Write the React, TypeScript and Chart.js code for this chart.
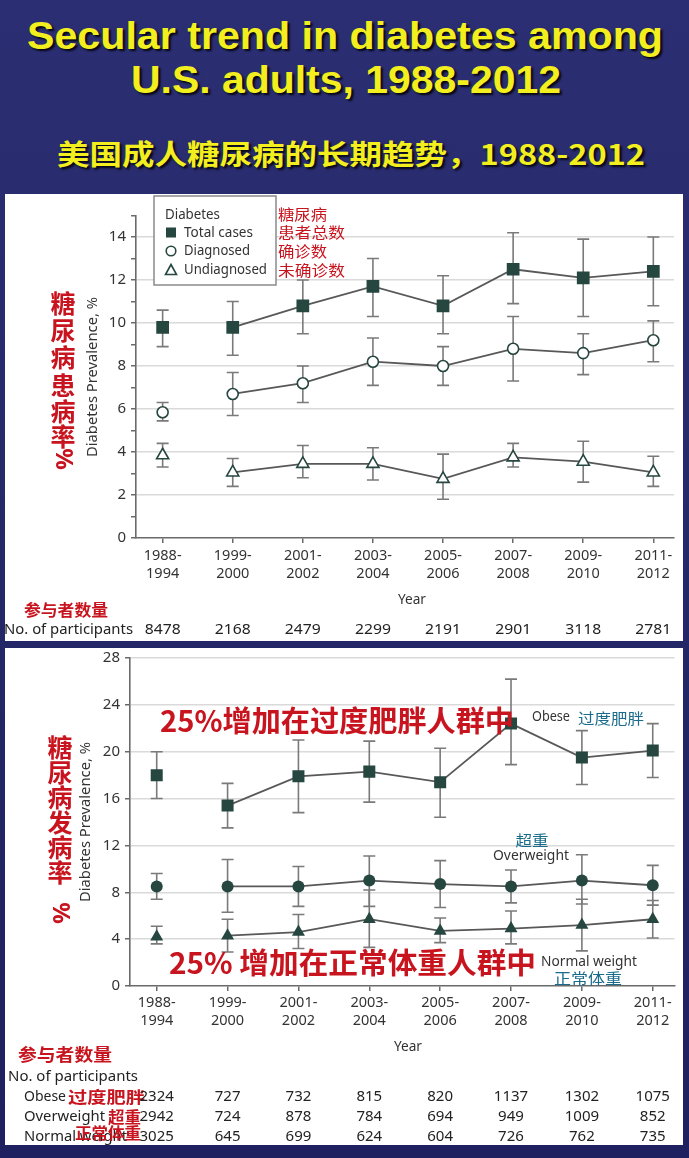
import React, { useEffect, useRef } from 'react';
import { Chart, registerables } from 'chart.js';

Chart.register(...registerables);

// ---------- DATA ----------
const periods = ['1988-1994', '1999-2000', '2001-2002', '2003-2004', '2005-2006', '2007-2008', '2009-2010', '2011-2012'];
const periodTickLabels = [
  ['1988-', '1994'], ['1999-', '2000'], ['2001-', '2002'], ['2003-', '2004'],
  ['2005-', '2006'], ['2007-', '2008'], ['2009-', '2010'], ['2011-', '2012'],
];

// Top panel: total / diagnosed / undiagnosed
const totalCases = [9.8, 9.8, 10.8, 11.7, 10.8, 12.5, 12.1, 12.4];
const totalLow = [8.9, 8.5, 9.5, 10.3, 9.5, 10.9, 10.3, 10.8];
const totalHigh = [10.6, 11.0, 12.0, 13.0, 12.2, 14.2, 13.9, 14.0];
const diagnosed = [5.85, 6.7, 7.2, 8.2, 8.0, 8.8, 8.6, 9.2];
const diagnosedLow = [5.45, 5.7, 6.3, 7.1, 7.1, 7.3, 7.6, 8.2];
const diagnosedHigh = [6.3, 7.7, 8.0, 9.3, 8.9, 10.3, 9.5, 10.1];
const undiagnosed = [3.85, 3.05, 3.45, 3.45, 2.75, 3.75, 3.55, 3.05];
const undiagnosedLow = [3.3, 2.4, 2.8, 2.7, 1.8, 3.3, 2.6, 2.4];
const undiagnosedHigh = [4.4, 3.7, 4.3, 4.2, 3.9, 4.4, 4.5, 3.8];
const participantsTotal = [8478, 2168, 2479, 2299, 2191, 2901, 3118, 2781];
const topYTicks = [0, 1, 2, 3, 4, 5, 6, 7, 8, 9, 10, 11, 12, 13, 14, 15];

// Bottom panel: obese / overweight / normal weight
const obese = [18.0, 15.4, 17.9, 18.3, 17.4, 22.4, 19.5, 20.1];
const obeseLow = [16.0, 13.5, 14.8, 15.7, 14.4, 18.9, 17.2, 17.8];
const obeseHigh = [20.0, 17.3, 21.0, 20.9, 20.3, 26.2, 21.8, 22.4];
const overweight = [8.5, 8.5, 8.5, 9.0, 8.7, 8.5, 9.0, 8.6];
const overweightLow = [7.4, 6.3, 6.8, 6.8, 6.7, 7.1, 7.0, 6.9];
const overweightHigh = [9.6, 10.8, 10.2, 11.1, 10.7, 9.9, 11.2, 10.3];
const normalWeight = [4.2, 4.3, 4.6, 5.7, 4.7, 4.9, 5.2, 5.7];
const normalLow = [3.6, 2.9, 3.2, 3.3, 3.7, 3.6, 3.0, 4.1];
const normalHigh = [5.1, 5.7, 6.1, 8.2, 5.8, 6.4, 7.4, 7.3];
const participantsObese = [2324, 727, 732, 815, 820, 1137, 1302, 1075];
const participantsOverweight = [2942, 724, 878, 784, 694, 949, 1009, 852];
const participantsNormal = [3025, 645, 699, 624, 604, 726, 762, 735];
const bottomYTicks = [0, 4, 8, 12, 16, 20, 24, 28];

// ---------- STYLE ----------
const SANS = '"Noto Sans", "Liberation Sans", sans-serif';
const CJK = '"Noto Sans CJK SC", "Noto Sans", sans-serif';
const MARK = '#264640';
const LINE = '#585858';
const ERR = '#7a7a7a';
const GRID = '#dadada';
const AXIS = '#6a6a6a';
const TXT = '#333333';
const RED = '#c8141e';
const TEAL = '#1b6c8c';

const TOP_OFF = { x: 5, y: 194 };
const BOT_OFF = { x: 5, y: 648 };

type TOpts = { font: string; color: string; align?: CanvasTextAlign; width?: number; rotate?: number };

function drawText(ctx: CanvasRenderingContext2D, s: string, x: number, y: number, o: TOpts) {
  ctx.save();
  ctx.font = o.font;
  ctx.fillStyle = o.color;
  ctx.textBaseline = 'middle';
  ctx.textAlign = o.align || 'left';
  ctx.translate(x, y);
  if (o.rotate) ctx.rotate(o.rotate);
  if (o.width) {
    const w = ctx.measureText(s).width;
    if (w > 0) ctx.scale(o.width / w, 1);
  }
  ctx.fillText(s, 0, 0);
  ctx.restore();
}

function measure(text: string, font: string) {
  const c = document.createElement('canvas').getContext('2d') as CanvasRenderingContext2D;
  c.font = font;
  return c.measureText(text).width;
}

function pts(values: number[]) {
  return values.map((v, i) => ({ x: i, y: v }));
}

function errorBarPlugin(bars: { low: number[]; high: number[] }[]) {
  return {
    id: 'errBars',
    beforeDatasetsDraw(chart: any) {
      const { ctx, scales } = chart;
      const x = scales.x;
      const y = scales.y;
      ctx.save();
      ctx.strokeStyle = ERR;
      ctx.lineWidth = 1.6;
      bars.forEach((b) => {
        b.low.forEach((lo, i) => {
          const px = x.getPixelForValue(i);
          const p1 = y.getPixelForValue(lo);
          const p2 = y.getPixelForValue(b.high[i]);
          ctx.beginPath();
          ctx.moveTo(px, p1);
          ctx.lineTo(px, p2);
          ctx.moveTo(px - 6, p1);
          ctx.lineTo(px + 6, p1);
          ctx.moveTo(px - 6, p2);
          ctx.lineTo(px + 6, p2);
          ctx.stroke();
        });
      });
      ctx.restore();
    },
  };
}

function series(values: number[], style: string, radius: number, fill: string, borderW: number) {
  return {
    data: pts(values),
    borderColor: LINE,
    borderWidth: 1.8,
    tension: 0,
    pointStyle: style,
    pointRadius: radius,
    pointBackgroundColor: fill,
    pointBorderColor: MARK,
    pointBorderWidth: borderW,
    segment: {
      borderColor: (c: any) => (c.p0DataIndex === 0 ? 'rgba(0,0,0,0)' : LINE),
    },
  };
}

function xAxis(min: number, max: number, height: number, padding: number) {
  return {
    type: 'linear',
    min,
    max,
    afterBuildTicks: (s: any) => {
      s.ticks = periods.map((_, i) => ({ value: i }));
    },
    ticks: {
      autoSkip: false,
      maxRotation: 0,
      minRotation: 0,
      padding,
      color: TXT,
      font: { family: SANS, size: 14.5, lineHeight: 1.25 },
      callback: (v: number) => periodTickLabels[Math.round(v)],
    },
    grid: { drawOnChartArea: false, drawTicks: true, tickLength: 5, tickColor: AXIS, lineWidth: 1.5 },
    border: { color: AXIS, width: 1.6 },
    afterFit: (s: any) => {
      s.height = height;
      s.paddingLeft = 0;
      s.paddingRight = 0;
    },
  };
}

function yAxis(ticks: number[], max: number, width: number, labelEvery: number) {
  return {
    type: 'linear',
    min: 0,
    max,
    afterBuildTicks: (s: any) => {
      s.ticks = ticks.map((v) => ({ value: v }));
    },
    ticks: {
      padding: 5,
      color: TXT,
      font: { family: SANS, size: 15 },
      callback: (v: number) => (v % labelEvery === 0 ? String(v) : ''),
    },
    grid: {
      drawTicks: true,
      tickLength: 5,
      tickColor: AXIS,
      lineWidth: 1.5,
      color: (c: any) => (c.tick && c.tick.value > 0 && c.tick.value % labelEvery === 0 ? GRID : 'rgba(0,0,0,0)'),
    },
    border: { color: AXIS, width: 1.6 },
    afterFit: (s: any) => {
      s.width = width;
      s.paddingTop = 0;
      s.paddingBottom = 0;
    },
  };
}

function drawVerticalRed(ctx: CanvasRenderingContext2D, chars: string[], x: number, ys: number[]) {
  chars.forEach((ch, i) => {
    if (ch === '%') {
      drawText(ctx, ch, x, ys[i], { font: `bold 24px ${SANS}`, color: RED, align: 'center', rotate: Math.PI / 2 });
    } else {
      drawText(ctx, ch, x, ys[i], { font: `bold 25px ${CJK}`, color: RED, align: 'center' });
    }
  });
}

function topAnnotations(chart: any) {
  const ctx: CanvasRenderingContext2D = chart.ctx;
  const ox = TOP_OFF.x;
  const oy = TOP_OFF.y;
  const xs = chart.scales.x;
  const P = (x: number, y: number) => [x - ox, y - oy];

  // legend box
  ctx.save();
  ctx.fillStyle = '#ffffff';
  ctx.strokeStyle = '#8a8a8a';
  ctx.lineWidth = 1.5;
  const [bx, by] = P(154, 196);
  ctx.fillRect(bx, by, 122, 89);
  ctx.strokeRect(bx, by, 122, 89);
  ctx.restore();

  const lf = `15px ${SANS}`;
  let [tx, ty] = P(165, 215);
  drawText(ctx, 'Diabetes', tx, ty, { font: lf, color: TXT, width: 55 });
  // symbols
  ctx.save();
  ctx.fillStyle = MARK;
  ctx.strokeStyle = MARK;
  ctx.lineWidth = 1.6;
  let [sx, sy] = P(171, 232.5);
  ctx.fillRect(sx - 5, sy - 5, 10, 10);
  [sx, sy] = P(171, 251);
  ctx.beginPath();
  ctx.arc(sx, sy, 4.8, 0, Math.PI * 2);
  ctx.fillStyle = '#fff';
  ctx.fill();
  ctx.stroke();
  [sx, sy] = P(171, 270);
  ctx.beginPath();
  ctx.moveTo(sx, sy - 5.5);
  ctx.lineTo(sx + 5.5, sy + 4.5);
  ctx.lineTo(sx - 5.5, sy + 4.5);
  ctx.closePath();
  ctx.stroke();
  ctx.restore();
  [tx, ty] = P(184, 232.5);
  drawText(ctx, 'Total cases', tx, ty, { font: lf, color: TXT, width: 69 });
  [tx, ty] = P(184, 251);
  drawText(ctx, 'Diagnosed', tx, ty, { font: lf, color: TXT, width: 66 });
  [tx, ty] = P(184, 270);
  drawText(ctx, 'Undiagnosed', tx, ty, { font: lf, color: TXT, width: 83 });

  const rf = `15px ${CJK}`;
  [tx, ty] = P(278, 214);
  drawText(ctx, '糖尿病', tx, ty, { font: rf, color: RED, width: 49 });
  [tx, ty] = P(278, 232.5);
  drawText(ctx, '患者总数', tx, ty, { font: rf, color: RED, width: 67 });
  [tx, ty] = P(278, 251);
  drawText(ctx, '确诊数', tx, ty, { font: rf, color: RED, width: 49 });
  [tx, ty] = P(278, 270);
  drawText(ctx, '未确诊数', tx, ty, { font: rf, color: RED, width: 67 });

  // y title
  [tx, ty] = P(93, 377);
  drawText(ctx, 'Diabetes Prevalence, %', tx, ty, { font: `14px ${SANS}`, color: TXT, align: 'center', rotate: -Math.PI / 2, width: 160 });
  drawVerticalRed(ctx, ['糖', '尿', '病', '患', '病', '率', '%'], 63 - ox, [303, 330, 357, 385, 411, 436, 459].map((v) => v - oy));

  // Year
  [tx, ty] = P(412, 600);
  drawText(ctx, 'Year', tx, ty, { font: `15px ${SANS}`, color: TXT, align: 'center', width: 28 });

  [tx, ty] = P(24, 610);
  drawText(ctx, '参与者数量', tx, ty, { font: `bold 16px ${CJK}`, color: RED, width: 84 });
  [tx, ty] = P(4, 630);
  drawText(ctx, 'No. of participants', tx, ty, { font: `15px ${SANS}`, color: '#222', width: 129 });
  participantsTotal.forEach((n, i) => {
    drawText(ctx, String(n), xs.getPixelForValue(i), ty, { font: `15px ${SANS}`, color: '#222', align: 'center', width: 36 });
  });
}

function bottomAnnotations(chart: any) {
  const ctx: CanvasRenderingContext2D = chart.ctx;
  const ox = BOT_OFF.x;
  const oy = BOT_OFF.y;
  const xs = chart.scales.x;
  const P = (x: number, y: number) => [x - ox, y - oy];
  let tx: number, ty: number;

  [tx, ty] = P(86.5, 822);
  drawText(ctx, 'Diabetes Prevalence, %', tx, ty, { font: `14px ${SANS}`, color: TXT, align: 'center', rotate: -Math.PI / 2, width: 160 });
  drawVerticalRed(ctx, ['糖', '尿', '病', '发', '病', '率', '%'], 60 - ox, [747, 772, 797, 822, 847, 872, 913].map((v) => v - oy));

  const big = `bold 29px ${CJK}`;
  [tx, ty] = P(160, 721);
  drawText(ctx, '25%增加在过度肥胖人群中', tx, ty, { font: big, color: RED, width: 354 });
  [tx, ty] = P(169, 963);
  drawText(ctx, '25% 增加在正常体重人群中', tx, ty, { font: big, color: RED, width: 367 });

  const lf = `14px ${SANS}`;
  const tf = `15px ${CJK}`;
  [tx, ty] = P(532, 717);
  drawText(ctx, 'Obese', tx, ty, { font: lf, color: TXT, width: 38 });
  [tx, ty] = P(578, 718);
  drawText(ctx, '过度肥胖', tx, ty, { font: tf, color: TEAL, width: 66 });
  [tx, ty] = P(532, 840);
  drawText(ctx, '超重', tx, ty, { font: tf, color: TEAL, align: 'center', width: 33 });
  [tx, ty] = P(531, 856);
  drawText(ctx, 'Overweight', tx, ty, { font: lf, color: TXT, align: 'center', width: 76 });
  [tx, ty] = P(541, 962);
  drawText(ctx, 'Normal weight', tx, ty, { font: lf, color: TXT, width: 96 });
  [tx, ty] = P(554, 978);
  drawText(ctx, '正常体重', tx, ty, { font: tf, color: TEAL, width: 68 });

  [tx, ty] = P(408, 1047);
  drawText(ctx, 'Year', tx, ty, { font: `15px ${SANS}`, color: TXT, align: 'center', width: 28 });

  [tx, ty] = P(18, 1055);
  drawText(ctx, '参与者数量', tx, ty, { font: `bold 17px ${CJK}`, color: RED, width: 94 });
  [tx, ty] = P(8, 1077);
  drawText(ctx, 'No. of participants', tx, ty, { font: `15px ${SANS}`, color: '#222', width: 130 });

  const rows: [string, number, string, number, number, number, number[], number][] = [
    ['Obese', 42, '过度肥胖', 68, 77, 1097, participantsObese, 1097],
    ['Overweight', 81, '超重', 108, 33, 1117, participantsOverweight, 1117],
    ['Normal weight', 103, '正常体重', 75, 66, 1137, participantsNormal, 1133],
  ];
  rows.forEach(([label, lw, cn, cx, cw, y, nums, cy]) => {
    const [lx, ly] = P(24, y);
    drawText(ctx, label, lx, ly, { font: `15px ${SANS}`, color: '#222', width: lw });
    const [cxx, cyy] = P(cx, cy);
    drawText(ctx, cn, cxx, cyy, { font: `bold 16px ${CJK}`, color: RED, width: cw });
    nums.forEach((n, i) => {
      const s = String(n);
      drawText(ctx, s, xs.getPixelForValue(i), ly, { font: `15px ${SANS}`, color: '#222', align: 'center', width: s.length * 8.6 });
    });
  });
}

function baseOptions(scales: any, padTop: number) {
  return {
    responsive: false,
    maintainAspectRatio: false,
    animation: false,
    devicePixelRatio: 1,
    events: [],
    layout: { padding: { top: padTop, left: 0, right: 0, bottom: 0 } },
    plugins: { legend: { display: false }, tooltip: { enabled: false }, title: { display: false } },
    scales,
  };
}

function TitleLine({ text, font, width, top, lineH, left, color }: any) {
  const natural = measure(text, font);
  const k = natural > 0 ? width / natural : 1;
  return (
    <div
      style={{
        position: 'absolute',
        left,
        top,
        height: lineH,
        lineHeight: `${lineH}px`,
        font,
        color,
        whiteSpace: 'nowrap',
        transformOrigin: '0 50%',
        transform: `scaleX(${k})`,
        textShadow: '2px 2px 2px rgba(0,0,0,0.85)',
      }}
    >
      {text}
    </div>
  );
}

export default function App() {
  const topRef = useRef<HTMLCanvasElement>(null);
  const botRef = useRef<HTMLCanvasElement>(null);

  useEffect(() => {
    document.body.style.margin = '0';
    const topChart = new Chart(topRef.current as HTMLCanvasElement, {
      type: 'line',
      data: {
        datasets: [
          series(totalCases, 'rect', 9, MARK, 0),
          series(diagnosed, 'circle', 5.5, '#ffffff', 1.6),
          series(undiagnosed, 'triangle', 7, '#ffffff', 1.6),
        ],
      } as any,
      options: baseOptions(
        {
          x: xAxis(-0.38, 7.295, 103, 4),
          y: yAxis(topYTicks, 15, 131, 2),
        },
        21.5,
      ) as any,
      plugins: [
        errorBarPlugin([
          { low: totalLow, high: totalHigh },
          { low: diagnosedLow, high: diagnosedHigh },
          { low: undiagnosedLow, high: undiagnosedHigh },
        ]),
        { id: 'topAnnot', afterDraw: topAnnotations },
      ] as any,
    });

    const botChart = new Chart(botRef.current as HTMLCanvasElement, {
      type: 'line',
      data: {
        datasets: [
          series(obese, 'rect', 8.5, MARK, 0),
          series(overweight, 'circle', 6, MARK, 0),
          series(normalWeight, 'triangle', 7.5, MARK, 0),
        ],
      } as any,
      options: baseOptions(
        {
          x: xAxis(-0.377, 7.307, 159, 3),
          y: yAxis(bottomYTicks, 28, 125, 4),
        },
        10,
      ) as any,
      plugins: [
        errorBarPlugin([
          { low: obeseLow, high: obeseHigh },
          { low: overweightLow, high: overweightHigh },
          { low: normalLow, high: normalHigh },
        ]),
        { id: 'botAnnot', afterDraw: bottomAnnotations },
      ] as any,
    });

    return () => {
      topChart.destroy();
      botChart.destroy();
    };
  }, []);

  const titleFont = 'bold 38px "Liberation Sans", Arial, sans-serif';
  const cnFont = `bold 28px ${CJK}`;
  return (
    <div
      style={{
        position: 'absolute',
        left: 0,
        top: 0,
        width: 689,
        height: 1158,
        overflow: 'hidden',
        background: 'linear-gradient(180deg, #2b2e72 0%, #252868 50%, #1e2060 100%)',
      }}
    >
      <TitleLine text="Secular trend in diabetes among" font={titleFont} width={636} left={27} top={15} lineH={44} color="#f3ef1f" />
      <TitleLine text="U.S. adults, 1988-2012" font={titleFont} width={430} left={131} top={59} lineH={44} color="#f3ef1f" />
      <TitleLine text="美国成人糖尿病的长期趋势，1988-2012" font={cnFont} width={588} left={57} top={133} lineH={40} color="#f3ef1f" />
      <div style={{ position: 'absolute', left: TOP_OFF.x, top: TOP_OFF.y, width: 678, height: 447, background: '#fff' }}>
        <canvas ref={topRef} width={678} height={447} style={{ display: 'block' }} />
      </div>
      <div style={{ position: 'absolute', left: BOT_OFF.x, top: BOT_OFF.y, width: 678, height: 497, background: '#fff' }}>
        <canvas ref={botRef} width={678} height={497} style={{ display: 'block' }} />
      </div>
    </div>
  );
}
